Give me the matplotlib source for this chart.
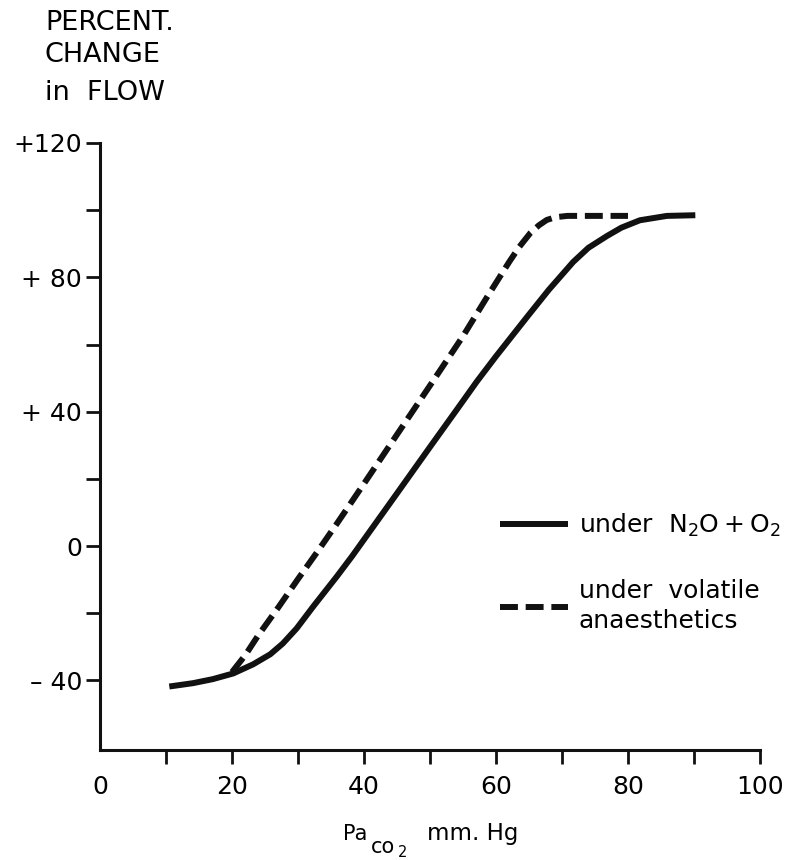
import matplotlib
matplotlib.use("Agg")
import matplotlib.pyplot as plt

# values
pa_co2_solid = [10.5, 14.1, 17.1, 20.2, 23.2, 25.8, 27.7, 29.8, 32.3, 35.9, 38.2,
                45, 50, 54.2, 57.1, 60, 64.7, 68, 71.7, 74, 76.8, 79, 81.8, 85.9, 90.2]
flow_solid = [-41.8, -40.8, -39.6, -37.9, -35.2, -32.2, -29, -24.5, -18, -9, -3,
              15.7, 29.5, 41, 49, 56.5, 68.2, 76.3, 84.6, 88.8, 92.3, 94.8, 97, 98.3, 98.5]

pa_co2_dashed = [20, 22, 24, 27, 30, 33, 36, 40, 45, 50, 55, 58.6, 62, 63.5,
                 65.2, 66.5, 67.7, 69, 70.8, 80]
flow_dashed = [-37.5, -32.5, -26.5, -18.3, -9.8, -1.5, 7, 18.6, 33.2, 47.8, 62.5, 74, 84.6, 89,
               93.2, 95.5, 97.1, 97.9, 98.3, 98.3]

x_major = [0, 20, 40, 60, 80, 100]
x_minor = [10, 30, 50, 70, 90]
y_major = [-40, 0, 40, 80, 120]
y_major_labels = ["\u2013 40", "0", "+ 40", "+ 80", "+120"]
y_minor = [-20, 20, 60, 100]

label_solid = r"under  $\mathregular{N_2O + O_2}$"
label_dashed = "under  volatile\nanaesthetics"
title_lines = ["PERCENT.", "CHANGE", "in  FLOW"]

plt.rcParams["font.family"] = ["DejaVu Sans"]
plt.rcParams["mathtext.fontset"] = "custom"
plt.rcParams["mathtext.rm"] = "DejaVu Sans"
ink = "#111111"

fig = plt.figure(figsize=(7.99, 8.6), dpi=100)
ax = fig.add_axes([100 / 799, 1 - 750 / 860, 660 / 799, 607 / 860])

ax.plot(pa_co2_solid, flow_solid, color=ink, lw=4.3,
        solid_capstyle="butt", solid_joinstyle="round", label=label_solid)
ax.plot(pa_co2_dashed, flow_dashed, color=ink, lw=4.3,
        dashes=(3, 1.3), dash_capstyle="butt", dash_joinstyle="round",
        label=label_dashed)

ax.set_xlim(0, 100)
ax.set_ylim(-60.7, 120)
for side in ["top", "right"]:
    ax.spines[side].set_visible(False)
for side in ["left", "bottom"]:
    ax.spines[side].set_linewidth(2.2)
    ax.spines[side].set_color(ink)

ax.set_xticks(x_major)
ax.set_xticks(x_minor, minor=True)
ax.set_yticks(y_major)
ax.set_yticklabels(y_major_labels)
ax.set_yticks(y_minor, minor=True)
ax.tick_params(axis="x", which="both", direction="out", length=10, width=2,
               color=ink, labelsize=18, pad=8)
ax.tick_params(axis="y", which="both", direction="out", length=10, width=2,
               color=ink, labelsize=18, pad=3)
ax.xaxis.get_major_ticks()[0].tick1line.set_visible(False)

# x label: Pa with subscript co2, then units
fig.text(343 / 799, 1 - 840 / 860, "Pa", ha="left", va="baseline", fontsize=15)
fig.text(371 / 799, 1 - 853 / 860, "co", ha="left", va="baseline", fontsize=15)
fig.text(398 / 799, 1 - 857 / 860, "2", ha="left", va="baseline", fontsize=10.5)
fig.text(427 / 799, 1 - 840 / 860, "mm. Hg", ha="left", va="baseline", fontsize=16.5)

# y label block at top left
for txt, ypx in zip(title_lines, [30, 62, 100]):
    fig.text(45 / 799, 1 - ypx / 860, txt, ha="left", va="baseline", fontsize=19.5)

leg = ax.legend(loc="upper left", bbox_to_anchor=(500 / 799, 1 - 512 / 860),
                bbox_transform=fig.transFigure, frameon=False, fontsize=18,
                handlelength=2.7, handletextpad=0.45, labelspacing=1.6,
                borderpad=0, borderaxespad=0)
for t in leg.get_texts():
    t.set_linespacing(1.3)

fig.savefig("out.png", dpi=100, facecolor="white")
